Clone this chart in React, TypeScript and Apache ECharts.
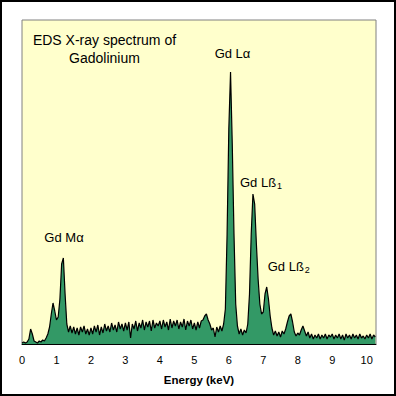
import React, { useEffect, useRef } from "react";
import * as echarts from "echarts";

// Spectrum sampled every 0.05 keV from 0.00 to 10.25 keV (counts, arbitrary units)
const STEP_KEV = 0.05;
const counts: number[] = [
  // 0.00 - 0.95
  1, 2, 1, 2, 5, 15, 10, 3, 2, 1, 3, 2, 4, 3, 6, 10, 17, 30, 41, 33,
  // 1.00 - 1.95
  24, 27, 45, 80, 86, 50, 20, 12, 18, 11, 17, 10, 16, 9, 17, 12, 18, 10, 15, 9,
  // 2.00 - 2.95
  16, 10, 18, 12, 19, 9, 17, 11, 20, 13, 18, 12, 21, 14, 19, 12, 22, 15, 20, 13,
  // 3.00 - 3.95
  21, 14, 22, 6, 20, 15, 23, 13, 21, 16, 24, 14, 22, 17, 23, 13, 24, 16, 21, 18,
  // 4.00 - 4.95
  23, 15, 24, 17, 22, 14, 25, 16, 23, 18, 24, 15, 22, 17, 25, 14, 23, 18, 24, 15,
  // 5.00 - 5.95
  21, 14, 22, 16, 23, 24, 28, 30, 24, 20, 14, 16, 7, 17, 12, 18, 13, 20, 35, 110,
  // 6.00 - 6.95
  215, 272, 200, 110, 40, 18, 10, 15, 9, 14, 11, 20, 50, 110, 150, 140, 100, 65, 40, 30,
  // 7.00 - 7.95
  32, 50, 57, 45, 28, 16, 9, 13, 8, 12, 7, 13, 10, 15, 22, 28, 30, 22, 12, 8,
  // 8.00 - 8.95
  11, 9, 14, 18, 13, 8, 12, 6, 10, 5, 9, 6, 10, 5, 9, 6, 10, 5, 9, 7,
  // 9.00 - 9.95
  10, 5, 9, 6, 10, 5, 9, 4, 10, 6, 9, 5, 10, 6, 9, 5, 10, 6, 8, 5,
  // 10.00 - 10.25
  9, 6, 10, 5, 9, 7,
];
const energies: number[] = counts.map((_, i) => Number((i * STEP_KEV).toFixed(2)));

const X_MIN = 0;
const X_MAX = 10.27;
const X_INTERVAL = 1;
const Y_MAX = 324;

const titleLines = ["EDS X-ray spectrum of", "Gadolinium"];
const xAxisName = "Energy (keV)";
const peakNames = ["Gd Mα", "Gd Lα", "Gd Lß", "Gd Lß"];
const peakSubscripts = ["", "", "1", "2"];

const App: React.FC = () => {
  const ref = useRef<HTMLDivElement>(null);

  useEffect(() => {
    if (!ref.current) return;
    const chart = echarts.init(ref.current, undefined, { renderer: "svg" });
    const font = "'Liberation Sans', Arial, sans-serif";
    const labelStyle = { fill: "#000", fontSize: 13, fontFamily: font };

    const option: echarts.EChartsOption = {
      animation: false,
      backgroundColor: "#ffffff",
      grid: {
        left: 22,
        right: 20,
        top: 20,
        bottom: 52,
        show: true,
        backgroundColor: "#FFFFCC",
        borderColor: "#808080",
        borderWidth: 1,
      },
      xAxis: {
        type: "value",
        min: X_MIN,
        max: X_MAX,
        interval: X_INTERVAL,
        name: xAxisName,
        nameLocation: "middle",
        nameGap: 30,
        nameTextStyle: {
          fontFamily: font,
          fontWeight: "bold",
          fontSize: 11.5,
          color: "#000",
        },
        axisLine: { show: true, lineStyle: { color: "#000", width: 1 } },
        axisTick: { show: false },
        splitLine: { show: false },
        axisLabel: {
          showMaxLabel: false,
          margin: 10,
          fontFamily: font,
          fontSize: 11,
          color: "#000",
        },
      },
      yAxis: {
        type: "value",
        min: 0,
        max: Y_MAX,
        show: false,
        splitLine: { show: false },
      },
      series: [
        {
          type: "line",
          data: energies.map((e, i) => [e, counts[i]]),
          symbol: "none",
          lineStyle: { color: "#000", width: 1.2 },
          areaStyle: { color: "#339966", opacity: 1 },
          z: 2,
        },
      ],
      graphic: [
        {
          type: "rect",
          shape: { x: 1, y: 1, width: 394, height: 394 },
          style: { fill: "none", stroke: "#000", lineWidth: 2 },
          z: 100,
        },
        {
          type: "text",
          x: 104.5,
          y: 40,
          style: { ...labelStyle, fontSize: 14, text: titleLines[0], textAlign: "center", textVerticalAlign: "middle" },
        },
        {
          type: "text",
          x: 104.5,
          y: 58,
          style: { ...labelStyle, fontSize: 14, text: titleLines[1], textAlign: "center", textVerticalAlign: "middle" },
        },
        {
          type: "text",
          x: 64,
          y: 237,
          style: { ...labelStyle, text: peakNames[0], textAlign: "center", textVerticalAlign: "middle" },
        },
        {
          type: "text",
          x: 232.5,
          y: 53,
          style: { ...labelStyle, text: peakNames[1], textAlign: "center", textVerticalAlign: "middle" },
        },
        {
          type: "text",
          x: 240,
          y: 182.5,
          style: { ...labelStyle, text: peakNames[2], textAlign: "left", textVerticalAlign: "middle" },
        },
        {
          type: "text",
          x: 277,
          y: 186,
          style: { ...labelStyle, fontSize: 9, text: peakSubscripts[2], textAlign: "left", textVerticalAlign: "middle" },
        },
        {
          type: "text",
          x: 267.7,
          y: 266.7,
          style: { ...labelStyle, text: peakNames[3], textAlign: "left", textVerticalAlign: "middle" },
        },
        {
          type: "text",
          x: 304.7,
          y: 270.2,
          style: { ...labelStyle, fontSize: 9, text: peakSubscripts[3], textAlign: "left", textVerticalAlign: "middle" },
        },
      ],
    };

    chart.setOption(option);
    return () => chart.dispose();
  }, []);

  return (
    <div
      ref={ref}
      style={{ position: "fixed", left: 0, top: 0, width: 396, height: 396 }}
    />
  );
};

export default App;
